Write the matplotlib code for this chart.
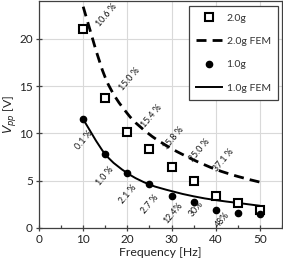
import matplotlib
matplotlib.use("Agg")
import matplotlib.pyplot as plt
from matplotlib.ticker import MultipleLocator
from matplotlib.path import Path
from matplotlib.patches import PathPatch
from matplotlib.lines import Line2D

plt.rcParams['font.family'] = ['Lato', 'DejaVu Sans']
plt.rcParams['mathtext.fontset'] = 'dejavusans'

freq = [10, 15, 20, 25, 30, 35, 40, 45, 50]
meas_2g = [21.0, 13.7, 10.1, 8.35, 6.45, 5.0, 3.35, 2.65, 1.95]
fem_2g = [23.4, 15.9, 12.1, 9.9, 8.4, 7.2, 6.2, 5.45, 4.85]
meas_1g = [11.5, 7.87, 5.86, 4.66, 3.35, 2.75, 1.94, 1.59, 1.48]
fem_1g = [11.5, 7.8, 5.8, 4.6, 3.9, 3.35, 2.95, 2.65, 2.35]

err_2g_labels = ["10.6 %", "15.0 %", "15.4 %", "15.8 %", "25.0 %", "37.1 %"]
err_2g_x = [15.4, 20.6, 25.5, 30.4, 36.4, 41.7]
err_2g_y = [22.5, 15.7, 11.8, 9.5, 8.25, 7.2]
err_1g_labels = ["0.1 %", "1.0 %", "2.1 %", "2.7 %", "12.4%", "30%", "48%"]
err_1g_x = [10.2, 14.9, 20.2, 25.1, 30.4, 35.7, 41.6]
err_1g_y = [9.3, 5.5, 3.6, 2.54, 1.55, 1.98, 0.9]


def smooth_path(xs, ys):
    """Excel-like smoothed line: Catmull-Rom segments as cubic Bezier curves."""
    n = len(xs)
    verts = [(xs[0], ys[0])]
    codes = [Path.MOVETO]
    for i in range(n - 1):
        x0, y0 = (xs[i - 1], ys[i - 1]) if i > 0 else (xs[i], ys[i])
        x1, y1 = xs[i], ys[i]
        x2, y2 = xs[i + 1], ys[i + 1]
        x3, y3 = (xs[i + 2], ys[i + 2]) if i + 2 < n else (xs[i + 1], ys[i + 1])
        c1 = (x1 + (x2 - x0) / 6.0, y1 + (y2 - y0) / 6.0)
        c2 = (x2 - (x3 - x1) / 6.0, y2 - (y3 - y1) / 6.0)
        verts += [c1, c2, (x2, y2)]
        codes += [Path.CURVE4] * 3
    return Path(verts, codes)


fig = plt.figure(figsize=(2.83, 2.66), dpi=100)
ax = fig.add_axes([39/283, 38/266, 243/283, 227/266])

spine_c = '#404040'
for s in ax.spines.values():
    s.set_color(spine_c)
    s.set_linewidth(0.9)

ax.grid(True, which='major', color='#d9d9d9', linewidth=0.8)
ax.set_axisbelow(True)

dash_style = dict(color='black', linewidth=2.0, linestyle=(0, (3.6, 2.2)))
solid_style = dict(color='black', linewidth=1.4, linestyle='-')

p2 = PathPatch(smooth_path(freq, fem_2g), facecolor='none', edgecolor='black',
               linewidth=2.0, linestyle=(0, (3.6, 2.2)), zorder=3, capstyle='butt')
ax.add_patch(p2)
p1 = PathPatch(smooth_path(freq, fem_1g), facecolor='none', edgecolor='black',
               linewidth=1.4, zorder=3)
ax.add_patch(p1)

ax.plot(freq, meas_2g, linestyle='none', marker='s', markersize=6,
        markerfacecolor='white', markeredgecolor='black', markeredgewidth=1.5,
        zorder=4)
ax.plot(freq, meas_1g, linestyle='none', marker='o', markersize=4.5,
        color='black', zorder=4)

for t, x, y in zip(err_2g_labels, err_2g_x, err_2g_y):
    ax.text(x, y, t, rotation=50, ha='center', va='center', fontsize=6.3,
            color='#111111', zorder=5)
for t, x, y in zip(err_1g_labels, err_1g_x, err_1g_y):
    ax.text(x, y, t, rotation=50, ha='center', va='center', fontsize=6.3,
            color='#111111', zorder=5)

ax.set_xlim(0, 55)
ax.set_ylim(0, 24)
ax.xaxis.set_major_locator(MultipleLocator(10))
ax.xaxis.set_minor_locator(MultipleLocator(5))
ax.yaxis.set_major_locator(MultipleLocator(5))
ax.tick_params(axis='both', which='major', direction='inout', length=5,
               width=0.9, color=spine_c, labelsize=8.5, labelcolor='#222222', pad=2)
ax.tick_params(axis='x', which='minor', direction='in', length=2.5,
               width=0.9, color=spine_c)
ax.tick_params(top=False, right=False)

ax.set_xlabel('Frequency [Hz]', fontsize=8.8, color='#222222', labelpad=1)
ax.set_ylabel(r'$V_{pp}$ [V]', fontsize=8.8, color='#222222', labelpad=1)

handles = [
    Line2D([], [], linestyle='none', marker='s', markersize=6,
           markerfacecolor='white', markeredgecolor='black', markeredgewidth=1.5),
    Line2D([], [], **dash_style),
    Line2D([], [], linestyle='none', marker='o', markersize=4.5, color='black'),
    Line2D([], [], **solid_style),
]
labels = ['2.0g', '2.0g FEM', '1.0g', '1.0g FEM']
leg = fig.legend(handles, labels, loc='upper right',
                 bbox_to_anchor=(278/283, 1 - 6/266), bbox_transform=fig.transFigure,
                 frameon=True, fancybox=False, shadow=False, framealpha=1,
                 edgecolor='#404040', fontsize=7.5, handlelength=2.5,
                 labelspacing=1.35, borderpad=0.7, handletextpad=0.4,
                 borderaxespad=0.0)
leg.get_frame().set_linewidth(0.9)
for t in leg.get_texts():
    t.set_color('#333333')

fig.savefig('out.png', dpi=100)
